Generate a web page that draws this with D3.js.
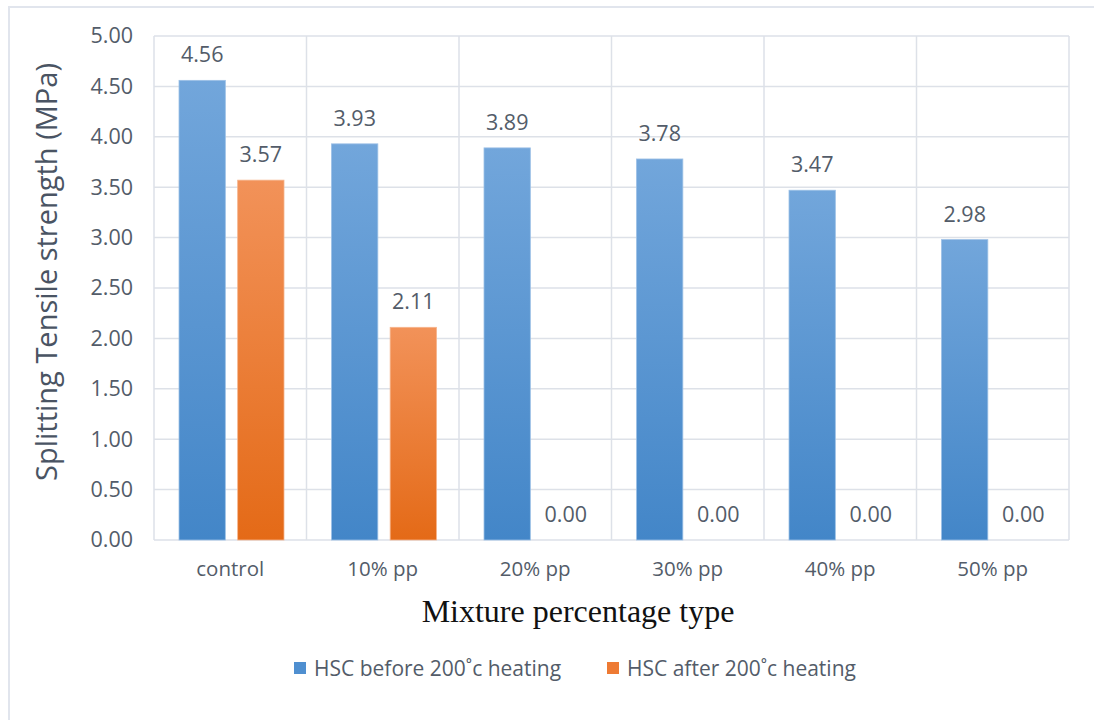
<!DOCTYPE html>
<html>
<head>
<meta charset="utf-8">
<script src="https://cdn.jsdelivr.net/npm/d3@7"></script>
<style>
  html, body { margin: 0; padding: 0; background: #fff; }
  svg { display: block; }
</style>
</head>
<body>
<div id="chart"></div>
<script>
// data
var categories = ['control', '10% pp', '20% pp', '30% pp', '40% pp', '50% pp'];
var seriesNames = ['HSC before 200˚c heating', 'HSC after 200˚c heating'];
var beforeHeating = [4.56, 3.93, 3.89, 3.78, 3.47, 2.98];
var afterHeating = [3.57, 2.11, 0.00, 0.00, 0.00, 0.00];
var yTicks = [0, 0.5, 1, 1.5, 2, 2.5, 3, 3.5, 4, 4.5, 5];

var W = 1094, H = 720
  , plot = { left: 154, right: 1069, top: 36, bottom: 540 }
  , textColor = '#535c69'
  , gridColor = '#dde1e8'
  , uiFont = '"Open Sans", "Noto Sans", sans-serif';

var svg = d3.select('#chart').append('svg')
  .attr('width', W)
  .attr('height', H);

// gradients for the two series
var defs = svg.append('defs');
var grads = [
  { id: 'gBlue', top: '#72a6db', bottom: '#4386c8' },
  { id: 'gOrange', top: '#f29259', bottom: '#e46a17' }
];
grads.forEach(function (g) {
  var lg = defs.append('linearGradient')
    .attr('id', g.id)
    .attr('x1', 0).attr('y1', 0).attr('x2', 0).attr('y2', 1);
  lg.append('stop').attr('offset', '0%').attr('stop-color', g.top);
  lg.append('stop').attr('offset', '100%').attr('stop-color', g.bottom);
});
var fills = ['url(#gBlue)', 'url(#gOrange)'];
var strokes = ['#9cc0e6', '#f6b48c'];
var swatch = ['#4f8fd0', '#ee7a33'];

// outer chart border
svg.append('rect')
  .attr('x', 9).attr('y', 7)
  .attr('width', W + 20).attr('height', H + 20)
  .attr('fill', 'none')
  .attr('stroke', '#e1e5ed')
  .attr('stroke-width', 2);

var x0 = d3.scaleBand()
  .domain(categories)
  .range([plot.left, plot.right])
  .paddingInner(0).paddingOuter(0);

var x1 = d3.scaleBand()
  .domain(d3.range(seriesNames.length))
  .range([25, x0.bandwidth() - 22.5])
  .paddingInner(0.21);

var y = d3.scaleLinear()
  .domain([0, 5])
  .range([plot.bottom, plot.top]);

// horizontal gridlines
svg.append('g')
  .selectAll('line')
  .data(yTicks)
  .enter().append('line')
    .attr('x1', plot.left).attr('x2', plot.right)
    .attr('y1', function (d) { return y(d); })
    .attr('y2', function (d) { return y(d); })
    .attr('stroke', gridColor)
    .attr('stroke-width', 1.5);

// vertical separators between categories
var seps = categories.map(function (c) { return x0(c); }).concat([plot.right]);
svg.append('g')
  .selectAll('line')
  .data(seps)
  .enter().append('line')
    .attr('x1', function (d) { return d; })
    .attr('x2', function (d) { return d; })
    .attr('y1', plot.top).attr('y2', plot.bottom)
    .attr('stroke', gridColor)
    .attr('stroke-width', 1.5);

// y axis labels
var yAxis = d3.axisLeft(y)
  .tickValues(yTicks)
  .tickSize(0)
  .tickPadding(21)
  .tickFormat(d3.format('.2f'));
var yg = svg.append('g')
  .attr('transform', 'translate(' + plot.left + ',0)')
  .call(yAxis);
yg.select('.domain').remove();
yg.selectAll('text')
  .attr('fill', textColor)
  .style('font-family', uiFont)
  .style('font-size', '21.5px');

// x axis labels
var xAxis = d3.axisBottom(x0).tickSize(0).tickPadding(21);
var xg = svg.append('g')
  .attr('transform', 'translate(0,' + plot.bottom + ')')
  .call(xAxis);
xg.select('.domain').remove();
xg.selectAll('text')
  .attr('fill', textColor)
  .style('font-family', uiFont)
  .style('font-size', '20.5px');

// bars
var rows = categories.map(function (c, i) {
  return { cat: c, values: [beforeHeating[i], afterHeating[i]] };
});

var groups = svg.append('g')
  .selectAll('g')
  .data(rows)
  .enter().append('g')
    .attr('transform', function (d) { return 'translate(' + x0(d.cat) + ',0)'; });

var cells = groups.selectAll('g')
  .data(function (d) { return d.values.map(function (v, s) { return { v: v, s: s }; }); })
  .enter().append('g');

cells.filter(function (d) { return d.v > 0; })
  .append('rect')
    .attr('x', function (d) { return x1(d.s); })
    .attr('y', function (d) { return y(d.v); })
    .attr('width', x1.bandwidth())
    .attr('height', function (d) { return y(0) - y(d.v); })
    .attr('fill', function (d) { return fills[d.s]; })
    .attr('stroke', function (d) { return strokes[d.s]; })
    .attr('stroke-width', 0.8);

cells.append('text')
  .attr('x', function (d) { return x1(d.s) + x1.bandwidth() / 2; })
  .attr('y', function (d) { return y(d.v) - 18; })
  .attr('text-anchor', 'middle')
  .attr('fill', textColor)
  .style('font-family', uiFont)
  .style('font-size', '21.5px')
  .text(function (d) { return d.v.toFixed(2); });

// y axis title
svg.append('text')
  .attr('transform', 'translate(57,272) rotate(-90)')
  .attr('text-anchor', 'middle')
  .attr('fill', '#4a5463')
  .style('font-family', uiFont)
  .style('font-size', '29px')
  .text('Splitting Tensile strength (MPa)');

// x axis title
svg.append('text')
  .attr('x', 578).attr('y', 622)
  .attr('text-anchor', 'middle')
  .attr('fill', '#111')
  .style('font-family', '"Liberation Serif", "Times New Roman", serif')
  .style('font-size', '32px')
  .text('Mixture percentage type');

// legend
var legendX = [294, 607];
var leg = svg.append('g')
  .selectAll('g')
  .data(seriesNames)
  .enter().append('g')
    .attr('transform', function (d, i) { return 'translate(' + legendX[i] + ',662)'; });
leg.append('rect')
  .attr('width', 12).attr('height', 12)
  .attr('fill', function (d, i) { return swatch[i]; });
leg.append('text')
  .attr('x', 20).attr('y', 14)
  .attr('fill', textColor)
  .style('font-family', uiFont)
  .style('font-size', '21px')
  .text(function (d) { return d; });
</script>
</body>
</html>
